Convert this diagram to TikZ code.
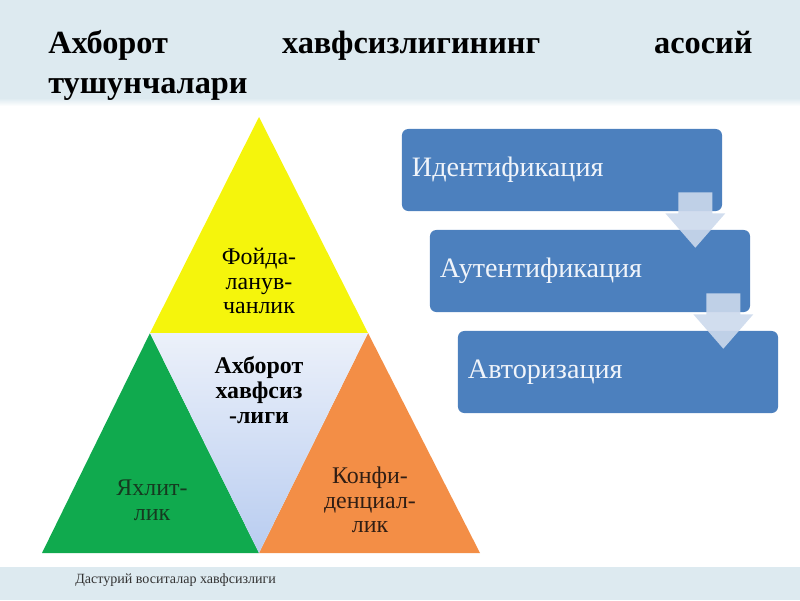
\documentclass[tikz,border=0pt]{standalone}
\usepackage{fontspec}
\setmainfont{Liberation Serif}
\usepackage{tikz}
\usetikzlibrary{calc}

\definecolor{band}{RGB}{221,234,240}
\definecolor{gelb}{RGB}{245,245,12}
\definecolor{gruen}{RGB}{16,170,78}
\definecolor{orangeton}{RGB}{243,142,70}
\definecolor{mitteoben}{RGB}{236,241,250}
\definecolor{mitteunten}{RGB}{184,204,240}
\definecolor{kastenblau}{RGB}{76,128,190}
\definecolor{kastentext}{RGB}{240,244,250}
\definecolor{pfeilblau}{RGB}{204,217,236}

\tikzset{
  titel/.style={anchor=north west, inner sep=0pt, text width=17.6cm, align=justify,
    font=\fontsize{23}{28.5}\selectfont\bfseries},
  dreitext/.style={align=center, inner sep=1pt, font=\fontsize{17}{17.5}\selectfont},
  kasten/.style={fill=kastenblau, rounded corners=4.5pt, minimum width=8cm,
    minimum height=2.05cm, inner xsep=0.25cm, text width=7.5cm, align=left,
    text=kastentext, font=\fontsize{20}{22}\selectfont},
  pfeil/.style={fill=pfeilblau, fill opacity=0.9}
}

\begin{document}
\begin{tikzpicture}[x=0.025cm,y=-0.025cm]
  % Hintergrund
  \useasboundingbox (0,0) rectangle (800,600);
  \fill[band] (0,0) rectangle (800,98);
  \shade[top color=band, bottom color=white] (0,98) rectangle (800,106);
  \fill[band] (0,567) rectangle (800,600);

  \node[titel] (titel) at (48,30) {Ахборот хавфсизлигининг асосий\linebreak тушунчалари};

  % Dreieck
  \coordinate (spitze) at (259,117);
  \coordinate (lm) at (150,333);
  \coordinate (rm) at (368,333);
  \coordinate (ul) at (42,553);
  \coordinate (um) at (259,553);
  \coordinate (ur) at (480,553);
  \fill[gelb] (spitze) -- (lm) -- (rm) -- cycle;
  \fill[gruen] (lm) -- (ul) -- (um) -- cycle;
  \fill[orangeton] (rm) -- (um) -- (ur) -- cycle;
  \shade[top color=mitteoben, bottom color=mitteunten] (lm) -- (rm) -- (um) -- cycle;

  \node[dreitext] (fojda) at (259,281) {Фойда-\\ланув-\\чанлик};
  \node[dreitext, font=\fontsize{17}{18}\selectfont\bfseries] (mitte) at (259,390) {Ахборот\\хавфсиз\\-лиги};
  \node[dreitext, text={rgb,255:red,22;green,58;blue,32}] (yaxlit) at (152,500) {Яхлит-\\лик};
  \node[dreitext, text={rgb,255:red,48;green,30;blue,20}] (konfi) at (370,500) {Конфи-\\денциал-\\лик};

  % Kästen
  \foreach \n/\x/\y/\wort in {1/562/170/Идентификация,2/590/271/Аутентификация,3/618/372/Авторизация}
  {
    \node[kasten] (kasten\n) at (\x,\y) {\wort};
  }
  \foreach \a/\b in {kasten1/kasten2,kasten2/kasten3}
  {
    \coordinate (o) at ($(\a.south east)+(-27,2)$);
    \coordinate (s) at ($(o |- \b.north)+(0,18)$);
    \fill[pfeil] ($(o)+(-17,-21)$) -- ($(o)+(17,-21)$) -- ($(o)+(17,0)$) -- ($(o)+(30,0)$)
      -- (s) -- ($(o)+(-30,0)$) -- ($(o)+(-17,0)$) -- cycle;
  }

  \node[anchor=west, inner sep=0pt, font=\fontsize{10}{12}\selectfont, text=black!80] (fuss) at (75,580) {Дастурий воситалар хавфсизлиги};
\end{tikzpicture}
\end{document}
